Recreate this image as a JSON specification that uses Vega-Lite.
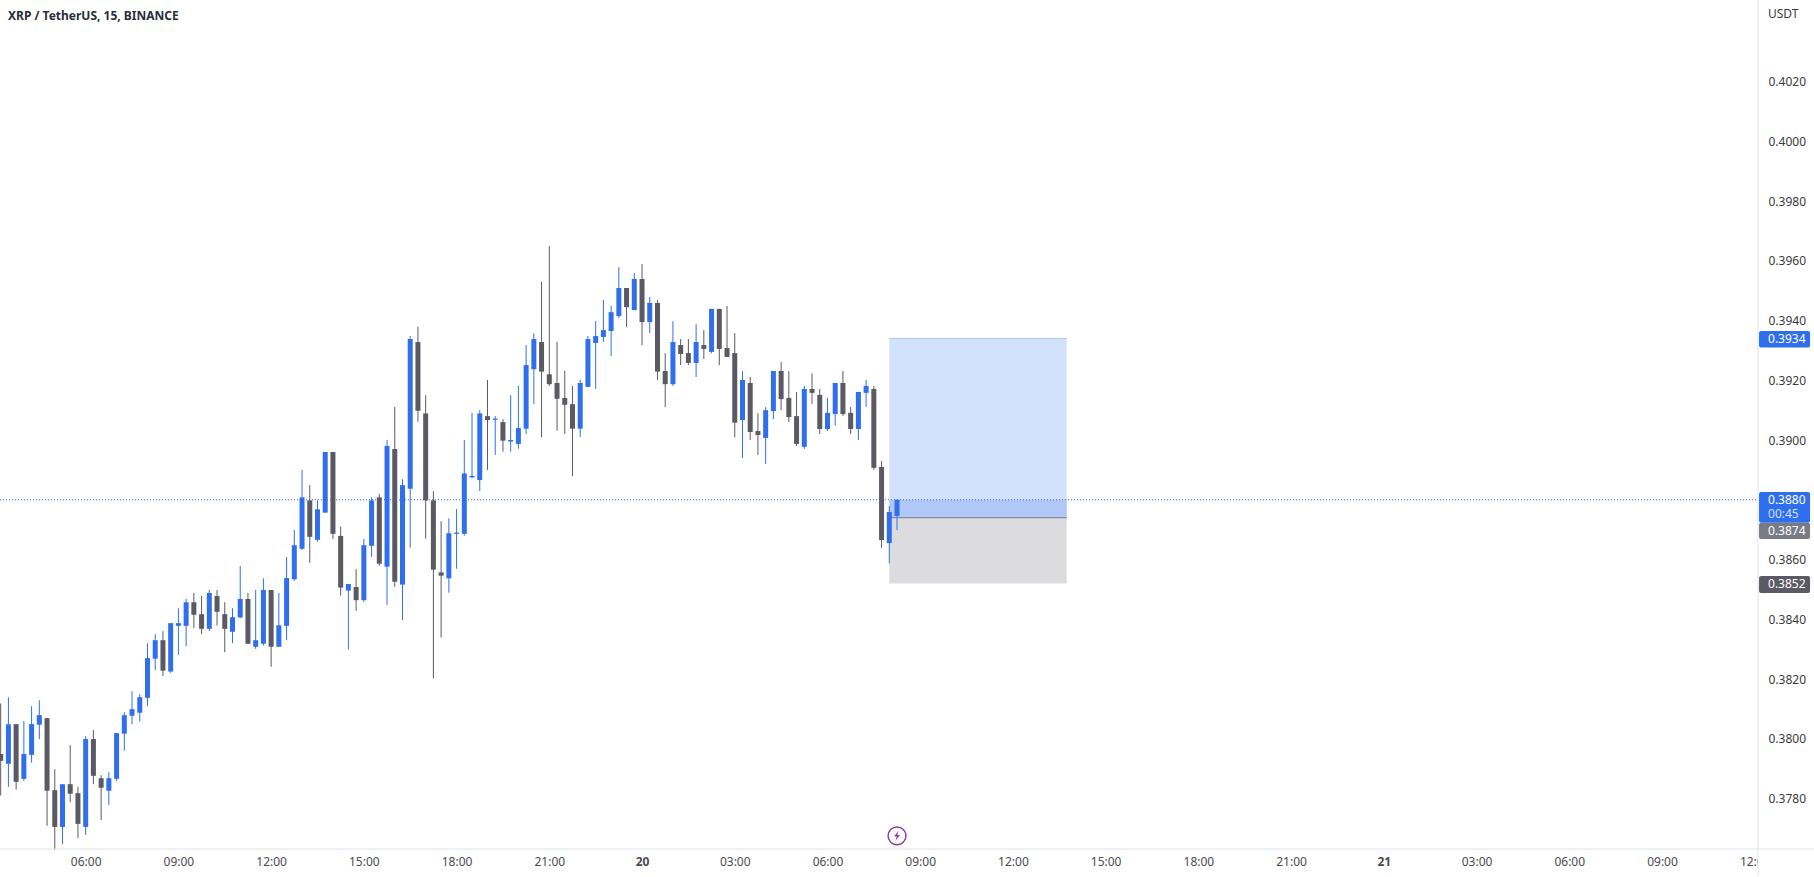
{
"$schema":"https://vega.github.io/schema/vega-lite/v6.json",
"width":1758,"height":849,
"autosize":{"type":"none"},
"padding":{"left":0,"top":0,"right":56,"bottom":28},
"background":"#ffffff",
"title":{"text":"XRP / TetherUS, 15, BINANCE","anchor":"start","frame":"group","font":"Noto Sans","fontSize":12,"fontWeight":"bold","color":"#2a2e39","dx":8,"dy":23,"offset":0},
"config":{"view":{"stroke":null},"font":"Noto Sans"},
"resolve":{"axis":{"x":"independent","y":"independent"}},
"datasets":{
"candles":[
{"t":3.25,"o":0.37949,"h":0.38118,"l":0.37810,"c":0.37926,"k":"down"},
{"t":3.5,"o":0.37916,"h":0.38139,"l":0.37839,"c":0.38049,"k":"up"},
{"t":3.75,"o":0.38049,"h":0.38049,"l":0.37830,"c":0.37856,"k":"down"},
{"t":4,"o":0.37866,"h":0.38059,"l":0.37859,"c":0.37949,"k":"up"},
{"t":4.25,"o":0.37946,"h":0.38109,"l":0.37920,"c":0.38049,"k":"up"},
{"t":4.5,"o":0.38047,"h":0.38129,"l":0.37999,"c":0.38079,"k":"up"},
{"t":4.75,"o":0.38069,"h":0.38069,"l":0.37709,"c":0.37826,"k":"down"},
{"t":5,"o":0.37828,"h":0.37898,"l":0.37629,"c":0.37705,"k":"down"},
{"t":5.25,"o":0.37705,"h":0.37848,"l":0.37647,"c":0.37848,"k":"up"},
{"t":5.5,"o":0.37848,"h":0.37979,"l":0.37788,"c":0.37816,"k":"down"},
{"t":5.75,"o":0.37818,"h":0.37839,"l":0.37668,"c":0.37715,"k":"down"},
{"t":6,"o":0.37705,"h":0.38009,"l":0.37678,"c":0.37999,"k":"up"},
{"t":6.25,"o":0.37999,"h":0.38029,"l":0.37848,"c":0.37876,"k":"down"},
{"t":6.5,"o":0.37868,"h":0.37878,"l":0.37728,"c":0.37836,"k":"down"},
{"t":6.75,"o":0.37826,"h":0.37888,"l":0.37778,"c":0.37868,"k":"up"},
{"t":7,"o":0.37866,"h":0.38019,"l":0.37859,"c":0.38019,"k":"up"},
{"t":7.25,"o":0.38017,"h":0.38089,"l":0.37960,"c":0.38079,"k":"up"},
{"t":7.5,"o":0.38077,"h":0.38159,"l":0.38049,"c":0.38099,"k":"up"},
{"t":7.75,"o":0.38087,"h":0.38149,"l":0.38058,"c":0.38139,"k":"up"},
{"t":8,"o":0.38137,"h":0.38320,"l":0.38109,"c":0.38270,"k":"up"},
{"t":8.25,"o":0.38268,"h":0.38350,"l":0.38230,"c":0.38330,"k":"up"},
{"t":8.5,"o":0.38330,"h":0.38360,"l":0.38210,"c":0.38228,"k":"down"},
{"t":8.75,"o":0.38225,"h":0.38387,"l":0.38221,"c":0.38387,"k":"up"},
{"t":9,"o":0.38378,"h":0.38437,"l":0.38281,"c":0.38387,"k":"up"},
{"t":9.25,"o":0.38378,"h":0.38468,"l":0.38310,"c":0.38457,"k":"up"},
{"t":9.5,"o":0.38457,"h":0.38488,"l":0.38370,"c":0.38415,"k":"down"},
{"t":9.75,"o":0.38417,"h":0.38478,"l":0.38350,"c":0.38368,"k":"down"},
{"t":10,"o":0.38368,"h":0.38498,"l":0.38361,"c":0.38488,"k":"up"},
{"t":10.25,"o":0.38478,"h":0.38498,"l":0.38379,"c":0.38425,"k":"down"},
{"t":10.5,"o":0.38417,"h":0.38457,"l":0.38290,"c":0.38368,"k":"down"},
{"t":10.75,"o":0.38358,"h":0.38437,"l":0.38320,"c":0.38407,"k":"up"},
{"t":11,"o":0.38406,"h":0.38578,"l":0.38404,"c":0.38468,"k":"up"},
{"t":11.25,"o":0.38468,"h":0.38488,"l":0.38317,"c":0.38318,"k":"down"},
{"t":11.5,"o":0.38308,"h":0.38498,"l":0.38301,"c":0.38330,"k":"up"},
{"t":11.75,"o":0.38318,"h":0.38537,"l":0.38312,"c":0.38498,"k":"up"},
{"t":12,"o":0.38498,"h":0.38498,"l":0.38241,"c":0.38308,"k":"down"},
{"t":12.25,"o":0.38308,"h":0.38488,"l":0.38308,"c":0.38380,"k":"up"},
{"t":12.5,"o":0.38378,"h":0.38608,"l":0.38330,"c":0.38538,"k":"up"},
{"t":12.75,"o":0.38534,"h":0.38699,"l":0.38529,"c":0.38648,"k":"up"},
{"t":13,"o":0.38636,"h":0.38900,"l":0.38632,"c":0.38808,"k":"up"},
{"t":13.25,"o":0.38798,"h":0.38849,"l":0.38589,"c":0.38676,"k":"down"},
{"t":13.5,"o":0.38666,"h":0.38798,"l":0.38660,"c":0.38768,"k":"up"},
{"t":13.75,"o":0.38757,"h":0.38960,"l":0.38757,"c":0.38960,"k":"up"},
{"t":14,"o":0.38960,"h":0.38960,"l":0.38669,"c":0.38686,"k":"down"},
{"t":14.25,"o":0.38679,"h":0.38710,"l":0.38479,"c":0.38506,"k":"down"},
{"t":14.5,"o":0.38496,"h":0.38518,"l":0.38299,"c":0.38518,"k":"up"},
{"t":14.75,"o":0.38508,"h":0.38568,"l":0.38428,"c":0.38464,"k":"down"},
{"t":15,"o":0.38464,"h":0.38669,"l":0.38458,"c":0.38648,"k":"up"},
{"t":15.25,"o":0.38646,"h":0.38808,"l":0.38609,"c":0.38798,"k":"up"},
{"t":15.5,"o":0.38808,"h":0.38819,"l":0.38579,"c":0.38586,"k":"down"},
{"t":15.75,"o":0.38576,"h":0.39000,"l":0.38448,"c":0.38980,"k":"up"},
{"t":16,"o":0.38970,"h":0.39111,"l":0.38509,"c":0.38526,"k":"down"},
{"t":16.25,"o":0.38516,"h":0.38869,"l":0.38397,"c":0.38849,"k":"up"},
{"t":16.5,"o":0.38837,"h":0.39348,"l":0.38640,"c":0.39338,"k":"up"},
{"t":16.75,"o":0.39328,"h":0.39379,"l":0.39061,"c":0.39098,"k":"down"},
{"t":17,"o":0.39089,"h":0.39150,"l":0.38670,"c":0.38798,"k":"down"},
{"t":17.25,"o":0.38798,"h":0.38829,"l":0.38202,"c":0.38566,"k":"down"},
{"t":17.5,"o":0.38557,"h":0.38728,"l":0.38339,"c":0.38546,"k":"down"},
{"t":17.75,"o":0.38537,"h":0.38738,"l":0.38489,"c":0.38688,"k":"up"},
{"t":18,"o":0.38686,"h":0.38769,"l":0.38569,"c":0.38690,"k":"up"},
{"t":18.25,"o":0.38686,"h":0.39000,"l":0.38680,"c":0.38888,"k":"up"},
{"t":18.5,"o":0.38875,"h":0.39091,"l":0.38872,"c":0.38880,"k":"up"},
{"t":18.75,"o":0.38866,"h":0.39100,"l":0.38829,"c":0.39089,"k":"up"},
{"t":19,"o":0.39080,"h":0.39201,"l":0.38900,"c":0.39067,"k":"down"},
{"t":19.25,"o":0.39068,"h":0.39080,"l":0.38950,"c":0.39072,"k":"up"},
{"t":19.5,"o":0.39060,"h":0.39070,"l":0.38961,"c":0.38998,"k":"down"},
{"t":19.75,"o":0.38995,"h":0.39150,"l":0.38961,"c":0.39000,"k":"up"},
{"t":20,"o":0.38987,"h":0.39181,"l":0.38971,"c":0.39040,"k":"up"},
{"t":20.25,"o":0.39038,"h":0.39318,"l":0.39020,"c":0.39251,"k":"up"},
{"t":20.5,"o":0.39237,"h":0.39357,"l":0.39120,"c":0.39338,"k":"up"},
{"t":20.75,"o":0.39328,"h":0.39529,"l":0.39009,"c":0.39229,"k":"down"},
{"t":21,"o":0.39220,"h":0.39649,"l":0.39181,"c":0.39187,"k":"down"},
{"t":21.25,"o":0.39191,"h":0.39329,"l":0.39031,"c":0.39138,"k":"down"},
{"t":21.5,"o":0.39141,"h":0.39232,"l":0.39020,"c":0.39118,"k":"down"},
{"t":21.75,"o":0.39120,"h":0.39181,"l":0.38879,"c":0.39038,"k":"down"},
{"t":22,"o":0.39038,"h":0.39201,"l":0.39010,"c":0.39191,"k":"up"},
{"t":22.25,"o":0.39178,"h":0.39348,"l":0.39178,"c":0.39338,"k":"up"},
{"t":22.5,"o":0.39325,"h":0.39398,"l":0.39171,"c":0.39348,"k":"up"},
{"t":22.75,"o":0.39345,"h":0.39469,"l":0.39328,"c":0.39368,"k":"up"},
{"t":23,"o":0.39365,"h":0.39449,"l":0.39281,"c":0.39428,"k":"up"},
{"t":23.25,"o":0.39415,"h":0.39579,"l":0.39408,"c":0.39509,"k":"up"},
{"t":23.5,"o":0.39509,"h":0.39509,"l":0.39378,"c":0.39445,"k":"down"},
{"t":23.75,"o":0.39435,"h":0.39559,"l":0.39435,"c":0.39539,"k":"up"},
{"t":24,"o":0.39539,"h":0.39589,"l":0.39318,"c":0.39395,"k":"down"},
{"t":24.25,"o":0.39395,"h":0.39479,"l":0.39358,"c":0.39459,"k":"up"},
{"t":24.5,"o":0.39459,"h":0.39469,"l":0.39201,"c":0.39229,"k":"down"},
{"t":24.75,"o":0.39231,"h":0.39291,"l":0.39110,"c":0.39187,"k":"down"},
{"t":25,"o":0.39187,"h":0.39398,"l":0.39181,"c":0.39328,"k":"up"},
{"t":25.25,"o":0.39318,"h":0.39338,"l":0.39251,"c":0.39288,"k":"down"},
{"t":25.5,"o":0.39291,"h":0.39338,"l":0.39251,"c":0.39258,"k":"down"},
{"t":25.75,"o":0.39258,"h":0.39388,"l":0.39211,"c":0.39328,"k":"up"},
{"t":26,"o":0.39318,"h":0.39368,"l":0.39271,"c":0.39305,"k":"down"},
{"t":26.25,"o":0.39295,"h":0.39439,"l":0.39291,"c":0.39439,"k":"up"},
{"t":26.5,"o":0.39439,"h":0.39439,"l":0.39251,"c":0.39305,"k":"down"},
{"t":26.75,"o":0.39308,"h":0.39449,"l":0.39278,"c":0.39278,"k":"down"},
{"t":27,"o":0.39291,"h":0.39358,"l":0.39009,"c":0.39058,"k":"down"},
{"t":27.25,"o":0.39067,"h":0.39231,"l":0.38940,"c":0.39201,"k":"up"},
{"t":27.5,"o":0.39191,"h":0.39211,"l":0.39000,"c":0.39027,"k":"down"},
{"t":27.75,"o":0.39030,"h":0.39090,"l":0.38950,"c":0.39017,"k":"down"},
{"t":28,"o":0.39007,"h":0.39110,"l":0.38920,"c":0.39100,"k":"up"},
{"t":28.25,"o":0.39097,"h":0.39231,"l":0.39070,"c":0.39231,"k":"up"},
{"t":28.5,"o":0.39231,"h":0.39261,"l":0.39100,"c":0.39137,"k":"down"},
{"t":28.75,"o":0.39141,"h":0.39231,"l":0.39060,"c":0.39077,"k":"down"},
{"t":29,"o":0.39080,"h":0.39161,"l":0.38980,"c":0.38987,"k":"down"},
{"t":29.25,"o":0.38977,"h":0.39181,"l":0.38970,"c":0.39171,"k":"up"},
{"t":29.5,"o":0.39171,"h":0.39223,"l":0.39121,"c":0.39158,"k":"down"},
{"t":29.75,"o":0.39151,"h":0.39171,"l":0.39020,"c":0.39037,"k":"down"},
{"t":30,"o":0.39037,"h":0.39141,"l":0.39030,"c":0.39091,"k":"up"},
{"t":30.25,"o":0.39087,"h":0.39191,"l":0.39049,"c":0.39191,"k":"up"},
{"t":30.5,"o":0.39191,"h":0.39231,"l":0.39081,"c":0.39087,"k":"down"},
{"t":30.75,"o":0.39091,"h":0.39111,"l":0.39020,"c":0.39037,"k":"down"},
{"t":31,"o":0.39037,"h":0.39161,"l":0.39000,"c":0.39161,"k":"up"},
{"t":31.25,"o":0.39158,"h":0.39201,"l":0.39111,"c":0.39181,"k":"up"},
{"t":31.5,"o":0.39171,"h":0.39181,"l":0.38900,"c":0.38907,"k":"down"},
{"t":31.75,"o":0.38910,"h":0.38930,"l":0.38639,"c":0.38665,"k":"down"},
{"t":32,"o":0.38655,"h":0.38779,"l":0.38587,"c":0.38759,"k":"up"},
{"t":32.25,"o":0.38746,"h":0.38800,"l":0.38699,"c":0.38800,"k":"up"}
],
"zones":[
{"from":32,"to":37.74,"top":0.3934,"bottom":0.3874,"k":"profit"},
{"from":32,"to":37.74,"top":0.3874,"bottom":0.3852,"k":"loss"},
{"from":32,"to":37.74,"top":0.3880,"bottom":0.3874,"k":"open"}
],
"badges":[
{"top":0.39365,"bottom":0.3931,"k":"target"},
{"top":0.38826,"bottom":0.38723,"k":"last"},
{"top":0.38723,"bottom":0.38669,"k":"entry"},
{"top":0.38545,"bottom":0.38488,"k":"stop"}
],
"badgeText":[
{"at":0.39338,"label":"0.3934"},
{"at":0.38798,"label":"0.3880"},
{"at":0.38751,"label":"00:45"},
{"at":0.38696,"label":"0.3874"},
{"at":0.38517,"label":"0.3852"}
]
},
"layer":[
{"data":{"name":"zones"},"mark":{"type":"bar","opacity":1},
"encoding":{
"x":{"field":"from","type":"quantitative","title":null,"scale":{"domain":[3.228,60.106],"nice":false,"zero":false,"padding":0},
"axis":{"values":[6,9,12,15,18,21,24,27,30,33,36,39,42,45,48,51,54,57,60],"labelExpr":"datum.value==24?'20':datum.value==48?'21':((datum.value%24<10?'0':'')+(datum.value%24)+':00')","labelOverlap":false,"labelFlush":false,"labelBound":false,"grid":false,"ticks":false,"domain":false,"labelPadding":7,"labelFont":"Noto Sans","labelFontSize":12,"labelColor":"#4a4a50","labelFontWeight":{"condition":{"test":"datum.value==24||datum.value==48","value":"bold"},"value":"normal"}}},
"x2":{"field":"to"},
"y":{"field":"top","type":"quantitative","title":null,"scale":{"domain":[0.37631,0.40473],"nice":false,"zero":false,"padding":0},
"axis":{"orient":"right","values":[0.378,0.38,0.382,0.384,0.386,0.388,0.39,0.392,0.394,0.396,0.398,0.4,0.402],"format":".4f","grid":false,"ticks":false,"domain":false,"labelPadding":10,"labelFont":"Noto Sans","labelFontSize":12,"labelColor":"#3a3a40","labelOverlap":false,"labelFlush":false,"labelBound":false}},
"y2":{"field":"bottom"},
"color":{"field":"k","type":"nominal","legend":null,"scale":{"domain":["profit","loss","open","up","down","target","last","entry","stop"],"range":["#d3e2fc","#dcdcdf","#afc8f8","#2f6fee","#5b5964","#2f6fee","#2f6fee","#787b86","#5b5964"]}}
}},
{"data":{"name":"zones"},"transform":[{"filter":"datum.k=='profit'"}],"mark":{"type":"rule","color":"#b4c6de","strokeWidth":1},
"encoding":{"x":{"field":"from","type":"quantitative","scale":{"domain":[3.228,60.106],"nice":false,"zero":false,"padding":0},"axis":null},"x2":{"field":"to"},"y":{"field":"top","type":"quantitative","scale":{"domain":[0.37631,0.40473],"nice":false,"zero":false,"padding":0},"axis":null}}},
{"data":{"name":"zones"},"transform":[{"filter":"datum.k=='loss'"}],"mark":{"type":"rule","color":"#787b86","strokeWidth":1},
"encoding":{"x":{"field":"from","type":"quantitative","scale":{"domain":[3.228,60.106],"nice":false,"zero":false,"padding":0},"axis":null},"x2":{"field":"to"},"y":{"field":"top","type":"quantitative","scale":{"domain":[0.37631,0.40473],"nice":false,"zero":false,"padding":0},"axis":null}}},
{"data":{"values":[{"price":0.388}]},"mark":{"type":"rule","color":"#3a5fcd","strokeWidth":1,"strokeDash":[1,2]},
"encoding":{"x":{"datum":3.228,"type":"quantitative","scale":{"domain":[3.228,60.106],"nice":false,"zero":false,"padding":0},"axis":null},"x2":{"datum":60.106},"y":{"field":"price","type":"quantitative","scale":{"domain":[0.37631,0.40473],"nice":false,"zero":false,"padding":0},"axis":null}}},
{"data":{"name":"candles"},"mark":{"type":"rule","strokeWidth":1},
"encoding":{"x":{"field":"t","type":"quantitative","scale":{"domain":[3.228,60.106],"nice":false,"zero":false,"padding":0},"axis":null},"y":{"field":"l","type":"quantitative","scale":{"domain":[0.37631,0.40473],"nice":false,"zero":false,"padding":0},"axis":null},"y2":{"field":"h"},
"color":{"field":"k","type":"nominal","legend":null,"scale":{"domain":["profit","loss","open","up","down","target","last","entry","stop"],"range":["#d3e2fc","#dcdcdf","#afc8f8","#2f6fee","#5b5964","#2f6fee","#2f6fee","#787b86","#5b5964"]}}}},
{"data":{"name":"candles"},"mark":{"type":"bar","width":5},
"encoding":{"x":{"field":"t","type":"quantitative","scale":{"domain":[3.228,60.106],"nice":false,"zero":false,"padding":0},"axis":null},"y":{"field":"o","type":"quantitative","scale":{"domain":[0.37631,0.40473],"nice":false,"zero":false,"padding":0},"axis":null},"y2":{"field":"c"},
"color":{"field":"k","type":"nominal","legend":null,"scale":{"domain":["profit","loss","open","up","down","target","last","entry","stop"],"range":["#d3e2fc","#dcdcdf","#afc8f8","#2f6fee","#5b5964","#2f6fee","#2f6fee","#787b86","#5b5964"]}}}},
{"data":{"values":[{"a":0.37631,"b":0.3754}]},"mark":{"type":"bar","color":"#ffffff"},
"encoding":{"x":{"datum":60.106,"type":"quantitative","scale":{"domain":[3.228,60.106],"nice":false,"zero":false,"padding":0},"axis":null},"x2":{"datum":62},"y":{"field":"a","type":"quantitative","scale":{"domain":[0.37631,0.40473],"nice":false,"zero":false,"padding":0},"axis":null},"y2":{"field":"b"}}},
{"data":{"values":[{"a":0.40473,"b":0.3754}]},"mark":{"type":"rule","color":"#e0e3eb","strokeWidth":1},
"encoding":{"x":{"datum":60.106,"type":"quantitative","scale":{"domain":[3.228,60.106],"nice":false,"zero":false,"padding":0},"axis":null},"y":{"field":"a","type":"quantitative","scale":{"domain":[0.37631,0.40473],"nice":false,"zero":false,"padding":0},"axis":null},"y2":{"field":"b"}}},
{"data":{"values":[{"a":0.37631}]},"mark":{"type":"rule","color":"#e0e3eb","strokeWidth":1},
"encoding":{"x":{"datum":3.228,"type":"quantitative","scale":{"domain":[3.228,60.106],"nice":false,"zero":false,"padding":0},"axis":null},"x2":{"datum":62},"y":{"field":"a","type":"quantitative","scale":{"domain":[0.37631,0.40473],"nice":false,"zero":false,"padding":0},"axis":null}}},
{"data":{"name":"badges"},"mark":{"type":"bar","cornerRadius":2},
"encoding":{"x":{"datum":60.14,"type":"quantitative","scale":{"domain":[3.228,60.106],"nice":false,"zero":false,"padding":0},"axis":null},"x2":{"datum":61.79},"y":{"field":"top","type":"quantitative","scale":{"domain":[0.37631,0.40473],"nice":false,"zero":false,"padding":0},"axis":null},"y2":{"field":"bottom"},
"color":{"field":"k","type":"nominal","legend":null,"scale":{"domain":["profit","loss","open","up","down","target","last","entry","stop"],"range":["#d3e2fc","#dcdcdf","#afc8f8","#2f6fee","#5b5964","#2f6fee","#2f6fee","#787b86","#5b5964"]}}}},
{"data":{"name":"badgeText"},"mark":{"type":"text","align":"left","baseline":"middle","font":"Noto Sans","fontSize":12},
"encoding":{"x":{"datum":60.43,"type":"quantitative","scale":{"domain":[3.228,60.106],"nice":false,"zero":false,"padding":0},"axis":null},"y":{"field":"at","type":"quantitative","scale":{"domain":[0.37631,0.40473],"nice":false,"zero":false,"padding":0},"axis":null},"text":{"field":"label"},
"color":{"condition":{"test":"datum.label=='00:45'","value":"#cfe0ff"},"value":"#ffffff"}}},
{"data":{"values":[{"at":0.40425,"label":"USDT"}]},"mark":{"type":"text","align":"left","baseline":"middle","font":"Noto Sans","fontSize":12,"color":"#3a3a40"},
"encoding":{"x":{"datum":60.43,"type":"quantitative","scale":{"domain":[3.228,60.106],"nice":false,"zero":false,"padding":0},"axis":null},"y":{"field":"at","type":"quantitative","scale":{"domain":[0.37631,0.40473],"nice":false,"zero":false,"padding":0},"axis":null},"text":{"field":"label"}}},
{"data":{"values":[{"t":32.25,"at":0.37675}]},"mark":{"type":"point","shape":"circle","size":320,"filled":false,"stroke":"#8e3ca8","strokeWidth":1.5,"fill":"#ffffff","fillOpacity":1},
"encoding":{"x":{"field":"t","type":"quantitative","scale":{"domain":[3.228,60.106],"nice":false,"zero":false,"padding":0},"axis":null},"y":{"field":"at","type":"quantitative","scale":{"domain":[0.37631,0.40473],"nice":false,"zero":false,"padding":0},"axis":null}}},
{"data":{"values":[{"t":32.25,"at":0.37675}]},"mark":{"type":"point","shape":"M0.3,-1 L-0.6,0.15 L-0.05,0.15 L-0.3,1 L0.6,-0.15 L0.05,-0.15 Z","size":100,"filled":true,"fill":"#8e3ca8","opacity":1},
"encoding":{"x":{"field":"t","type":"quantitative","scale":{"domain":[3.228,60.106],"nice":false,"zero":false,"padding":0},"axis":null},"y":{"field":"at","type":"quantitative","scale":{"domain":[0.37631,0.40473],"nice":false,"zero":false,"padding":0},"axis":null}}}
]
}
